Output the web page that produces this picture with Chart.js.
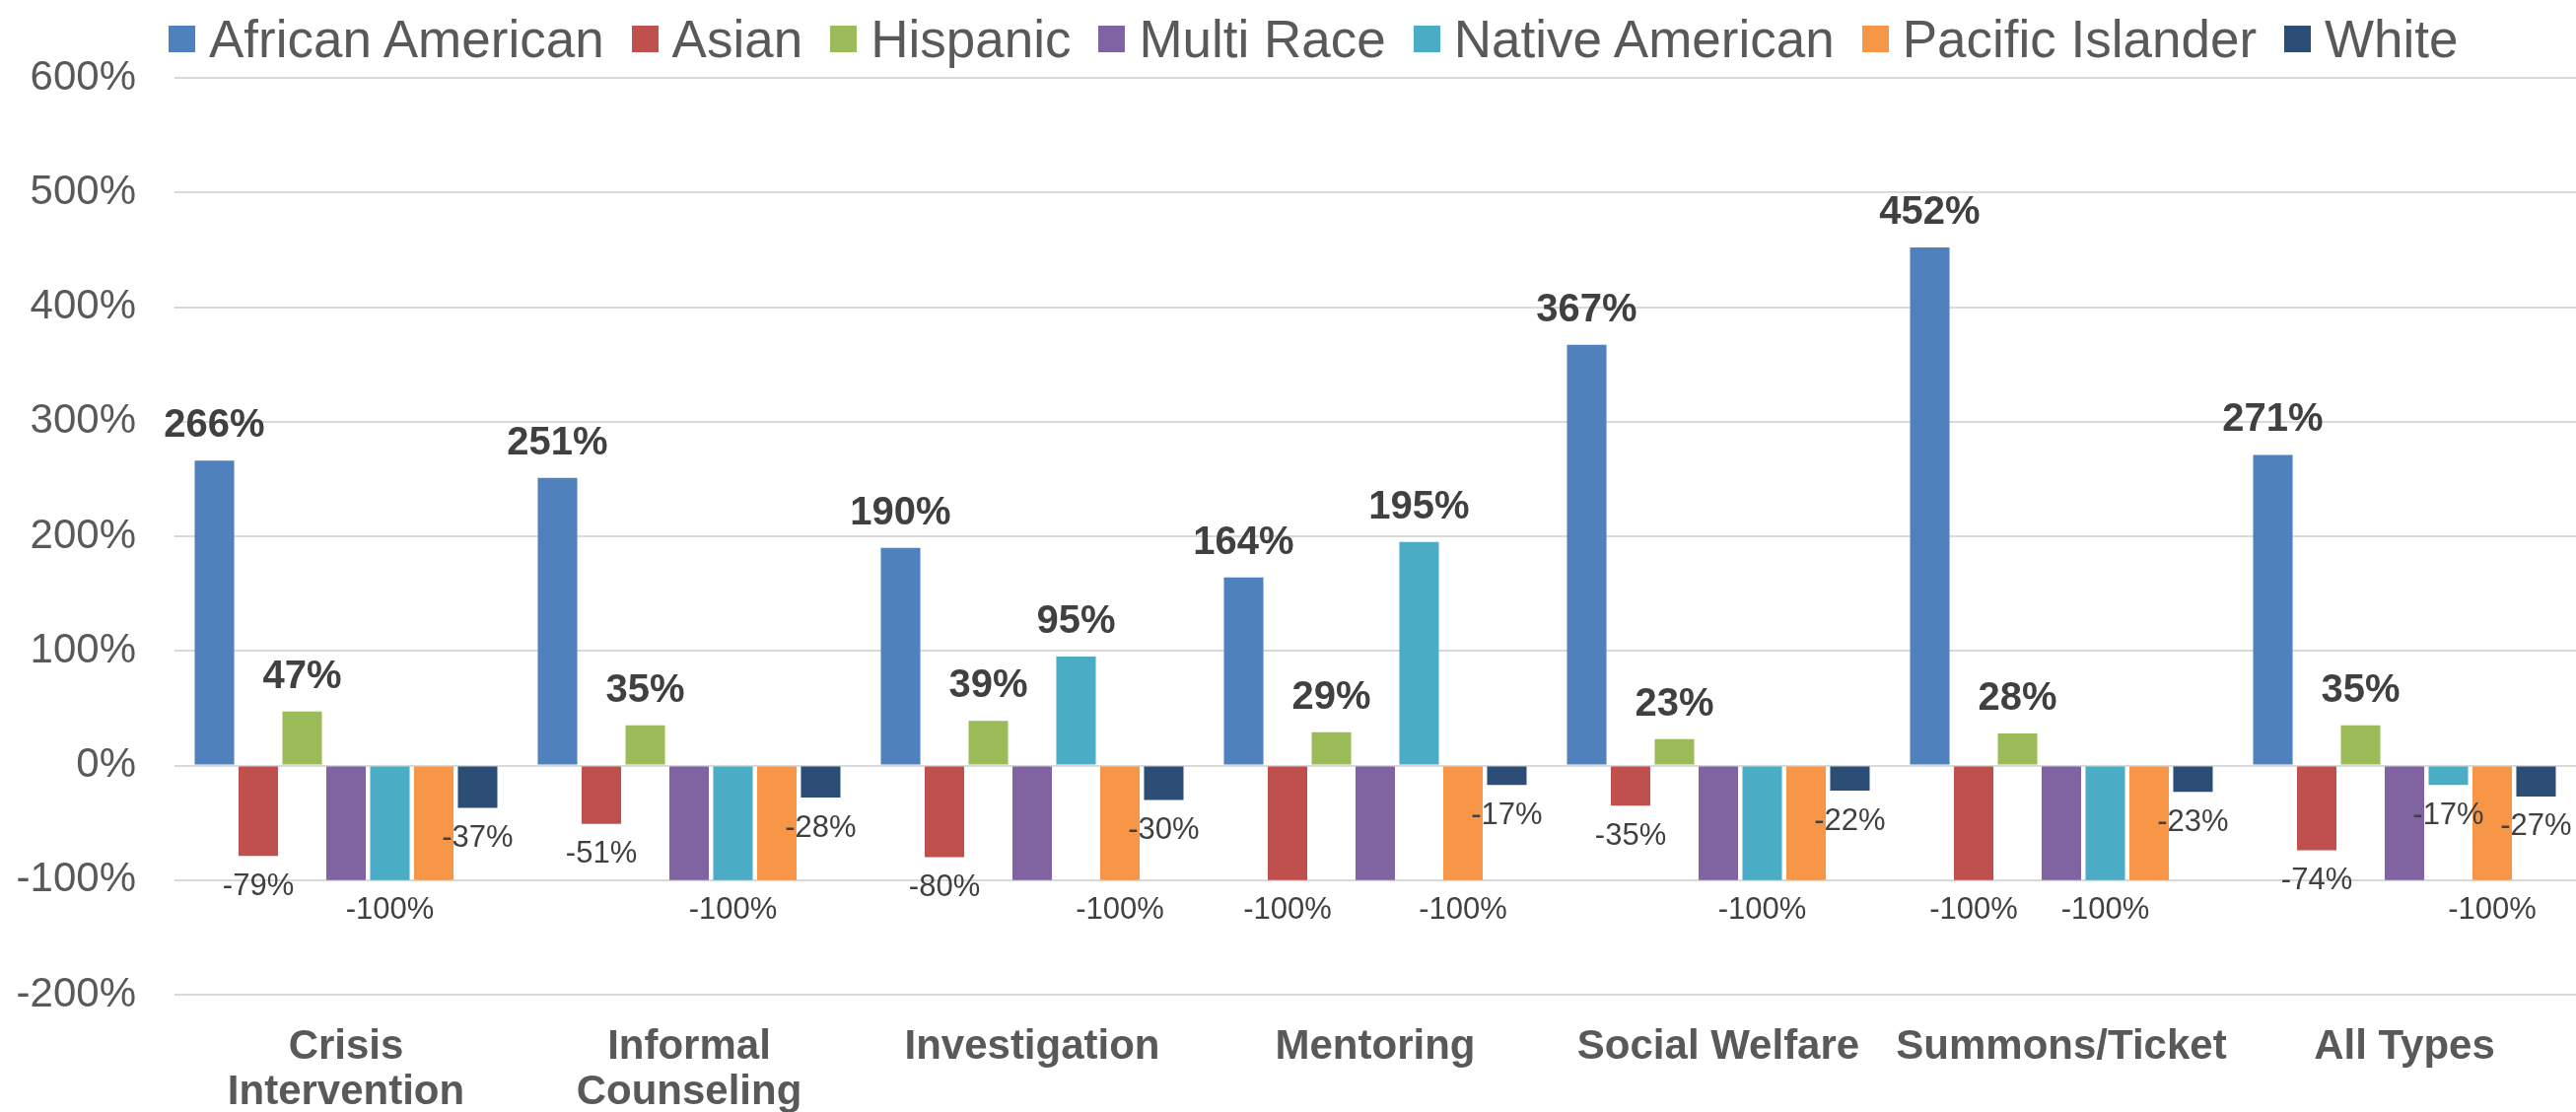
<!DOCTYPE html>
<html>
<head>
<meta charset="utf-8">
<title>Variação por tipo de contato</title>
<script src="https://cdn.jsdelivr.net/npm/chart.js@4.4.0/dist/chart.umd.min.js"></script>
<style>
  body { margin: 0; background: #fff; }
  #wrap { position: relative; width: 2613px; height: 1128px; }
  #legenda {
    position: absolute; left: 171px; top: 9px;
    display: flex; align-items: center; white-space: nowrap;
    font: 53px "Liberation Sans", Arial, sans-serif; color: #595959;
  }
  .item { display: flex; align-items: center; margin-right: 28px; }
  .caixa { width: 27px; height: 27px; margin-right: 14px; }
</style>
</head>
<body>
<div id="wrap">
  <canvas id="grafico" width="2613" height="1128"></canvas>
  <div id="legenda"></div>
</div>
<script>
// Categorias (eixo x)
const categorias = [['Crisis', 'Intervention'], ['Informal', 'Counseling'], 'Investigation', 'Mentoring', 'Social Welfare', 'Summons/Ticket', 'All Types'];

// Valores em % por grupo
const africanAmerican = [266, 251, 190, 164, 367, 452, 271];
const asian = [-79, -51, -80, -100, -35, -100, -74];
const hispanic = [47, 35, 39, 29, 23, 28, 35];
const multiRace = [-100, -100, -100, -100, -100, -100, -100];
const nativeAmerican = [-100, -100, 95, 195, -100, -100, -17];
const pacificIslander = [-100, -100, -100, -100, -100, -100, -100];
const white = [-37, -28, -30, -17, -22, -23, -27];

// Quais rótulos aparecem no original (alguns -100% foram ocultados)
const rotuloAfrican = [true, true, true, true, true, true, true];
const rotuloAsian = [true, true, true, true, true, true, true];
const rotuloHispanic = [true, true, true, true, true, true, true];
const rotuloMulti = [false, false, false, false, false, false, false];
const rotuloNative = [true, true, true, true, true, true, true];
const rotuloPacific = [false, false, true, true, false, false, true];
const rotuloWhite = [true, true, true, true, true, true, true];

// Eixo y
const yMin = -200;
const yMax = 600;
const yPasso = 100;

const FONTE = '"Liberation Sans", Arial, sans-serif';

const series = [
  { label: 'African American', data: africanAmerican, cor: '#4F81BD', rotulos: rotuloAfrican },
  { label: 'Asian', data: asian, cor: '#C0504D', rotulos: rotuloAsian },
  { label: 'Hispanic', data: hispanic, cor: '#9BBB59', rotulos: rotuloHispanic },
  { label: 'Multi Race', data: multiRace, cor: '#8064A2', rotulos: rotuloMulti },
  { label: 'Native American', data: nativeAmerican, cor: '#4BACC6', rotulos: rotuloNative },
  { label: 'Pacific Islander', data: pacificIslander, cor: '#F79646', rotulos: rotuloPacific },
  { label: 'White', data: white, cor: '#2C4D75', rotulos: rotuloWhite },
];

// Legenda em HTML
const legenda = document.getElementById('legenda');
series.forEach(s => {
  const div = document.createElement('div');
  div.className = 'item';
  div.innerHTML = `<span class="caixa" style="background:${s.cor}"></span><span>${s.label}</span>`;
  legenda.appendChild(div);
});
legenda.lastChild.style.marginRight = '0';

// Rótulos de dados desenhados sobre as barras
const rotulosPlugin = {
  id: 'rotulos',
  afterDatasetsDraw(chart) {
    const ctx = chart.ctx;
    chart.data.datasets.forEach((ds, i) => {
      const meta = chart.getDatasetMeta(i);
      meta.data.forEach((bar, j) => {
        if (!series[i].rotulos[j]) return;
        const v = ds.data[j];
        ctx.save();
        ctx.fillStyle = '#404040';
        ctx.textAlign = 'center';
        ctx.textBaseline = 'middle';
        if (v >= 0) {
          ctx.font = 'bold 40px ' + FONTE;
          ctx.fillText(v + '%', bar.x, bar.y - 35);
        } else {
          ctx.font = '31px ' + FONTE;
          ctx.fillText(v + '%', bar.x, bar.y + 31);
        }
        ctx.restore();
      });
    });
  }
};

new Chart(document.getElementById('grafico'), {
  type: 'bar',
  data: {
    labels: categorias,
    datasets: series.map(s => ({
      label: s.label,
      data: s.data,
      backgroundColor: s.cor,
      borderWidth: 0,
      categoryPercentage: 0.895,
      barPercentage: 0.9,
    }))
  },
  options: {
    responsive: false,
    animation: false,
    devicePixelRatio: 1,
    layout: { padding: { top: 79, left: 0, right: 0, bottom: 0 } },
    plugins: {
      legend: { display: false },
      tooltip: { enabled: false },
    },
    scales: {
      x: {
        grid: { display: false, drawTicks: false, tickLength: 0 },
        border: { display: false },
        ticks: {
          color: '#595959',
          padding: 30,
          maxRotation: 0,
          autoSkip: false,
          font: { family: FONTE, size: 42, weight: 'bold', lineHeight: 1.1 },
        },
        afterFit(scale) { scale.height = 119; },
      },
      y: {
        min: yMin,
        max: yMax,
        grid: { color: '#D9D9D9', lineWidth: 2, drawTicks: false, tickLength: 0 },
        border: { display: false },
        ticks: {
          stepSize: yPasso,
          color: '#595959',
          padding: 39,
          font: { family: FONTE, size: 42 },
          callback: v => v + '%',
        },
        afterFit(scale) { scale.width = 177; },
      },
    },
  },
  plugins: [rotulosPlugin],
});
</script>
</body>
</html>
